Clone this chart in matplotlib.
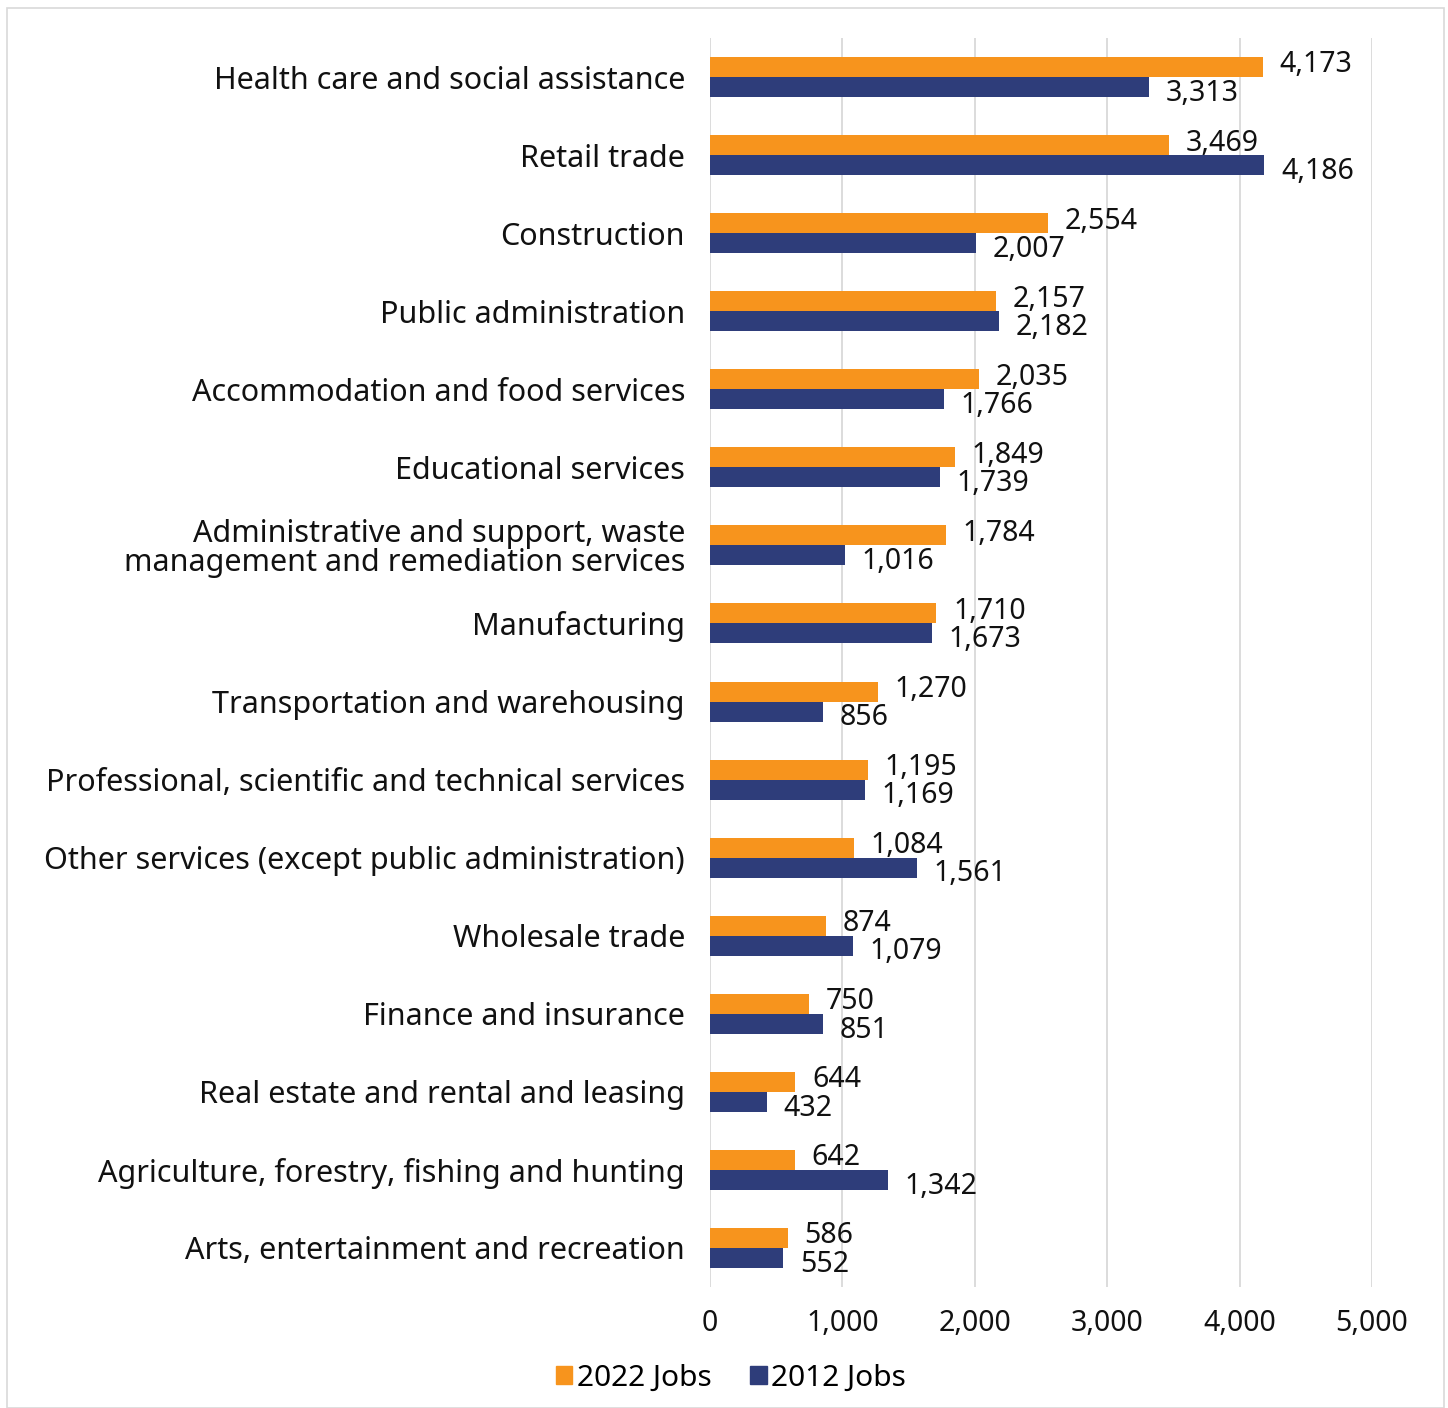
import matplotlib
matplotlib.use("Agg")
import matplotlib.pyplot as plt
from matplotlib.patches import Rectangle, Patch
import numpy as np

categories = [
    "Health care and social assistance",
    "Retail trade",
    "Construction",
    "Public administration",
    "Accommodation and food services",
    "Educational services",
    "Administrative and support, waste\nmanagement and remediation services",
    "Manufacturing",
    "Transportation and warehousing",
    "Professional, scientific and technical services",
    "Other services (except public administration)",
    "Wholesale trade",
    "Finance and insurance",
    "Real estate and rental and leasing",
    "Agriculture, forestry, fishing and hunting",
    "Arts, entertainment and recreation",
]
jobs_2022 = [4173, 3469, 2554, 2157, 2035, 1849, 1784, 1710, 1270, 1195, 1084, 874, 750, 644, 642, 586]
jobs_2012 = [3313, 4186, 2007, 2182, 1766, 1739, 1016, 1673, 856, 1169, 1561, 1079, 851, 432, 1342, 552]
xticks = [0, 1000, 2000, 3000, 4000, 5000]

ORANGE = "#F7941D"
NAVY = "#2E3D7A"
GRID = "#D9D9D9"

plt.rcParams['font.family'] = ['Noto Sans', 'DejaVu Sans']
FS_CAT = 22
FS = 20.5

W, H = 1448, 1408
fig = plt.figure(figsize=(W / 100, H / 100), dpi=100)
fig.patches.append(Rectangle((7 / W, 0), (1444 - 7) / W, 1 - 8 / H, transform=fig.transFigure,
                             fill=False, edgecolor="#D9D9D9", linewidth=1.2))

ax = fig.add_axes([710 / W, 1 - 1287 / H, 662 / W, (1287 - 38) / H])
y = np.arange(len(categories))
bh = 0.256
ax.barh(y - bh / 2, jobs_2022, height=bh, color=ORANGE, label="2022 Jobs", zorder=3)
ax.barh(y + bh / 2, jobs_2012, height=bh, color=NAVY, label="2012 Jobs", zorder=3)

ax.set_ylim(len(categories) - 0.5, -0.5)
ax.set_xlim(0, 5000)
ax.set_yticks(y)
ax.set_yticklabels(categories, fontsize=FS_CAT, color="#111111")
ax.set_xticks(xticks)
ax.set_xticklabels([f"{t:,}" for t in xticks], fontsize=FS, color="#111111")
ax.tick_params(axis="both", length=0)
ax.tick_params(axis="y", pad=18)
ax.tick_params(axis="x", pad=16)
for lbl in ax.get_yticklabels():
    lbl.set_ha("right")
    lbl.set_multialignment("right")
    lbl.set_linespacing(0.95)
ax.grid(axis="x", color=GRID, linewidth=1.3, zorder=0)
ax.grid(axis="y", visible=False)
for s in ax.spines.values():
    s.set_visible(False)

for i in range(len(categories)):
    ax.annotate(f"{jobs_2022[i]:,}", (jobs_2022[i], i - bh / 2), xytext=(12, 1.5),
                textcoords="offset points", va="center", ha="left", fontsize=FS, color="#111111")
    ax.annotate(f"{jobs_2012[i]:,}", (jobs_2012[i], i + bh / 2), xytext=(12, -4.5),
                textcoords="offset points", va="center", ha="left", fontsize=FS, color="#111111")

handles = [Patch(color=ORANGE), Patch(color=NAVY)]
fig.legend(handles, ["2022 Jobs", "2012 Jobs"], loc="center", bbox_to_anchor=(731 / W, 1 - 1378 / H),
           ncol=2, frameon=False, fontsize=21.5, handlelength=0.55, handleheight=0.55,
           handletextpad=0.15, columnspacing=1.3)

fig.savefig("out.png", dpi=100)
